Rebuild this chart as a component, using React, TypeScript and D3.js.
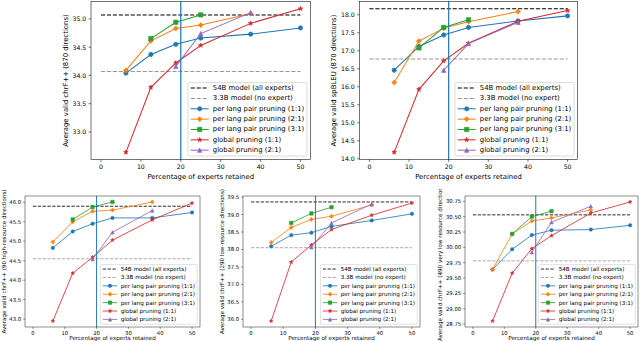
import React from 'react'
import * as d3 from 'd3'

// x positions (percentage of experts retained) for each series
const X_TICKS = [0, 10, 20, 30, 40, 50]
const X_PP11 = [6.25, 12.5, 18.75, 25, 37.5, 50]
const X_PP21 = [6.25, 12.5, 18.75, 25, 37.5]
const X_PP31 = [12.5, 18.75, 25]
const X_G11 = [6.25, 12.5, 18.75, 25, 37.5, 50]
const X_G21 = [18.75, 25, 37.5]
const X_SPLIT = 20

const LEGEND_LABELS = [
  '54B model (all experts)',
  '3.3B model (no expert)',
  'per lang pair pruning (1:1)',
  'per lang pair pruning (2:1)',
  'per lang pair pruning (3:1)',
  'global pruning (1:1)',
  'global pruning (2:1)',
]

// chrF++ 870 directions
const ALL_CHRF_REF = [35.07, 34.07]
const ALL_CHRF_PP11 = [34.04, 34.37, 34.55, 34.66, 34.73, 34.84]
const ALL_CHRF_PP21 = [34.09, 34.61, 34.83, 34.89, 35.09]
const ALL_CHRF_PP31 = [34.65, 34.94, 35.07]
const ALL_CHRF_G11 = [32.64, 33.79, 34.22, 34.53, 34.92, 35.18]
const ALL_CHRF_G21 = [34.16, 34.74, 35.11]
const ALL_CHRF_TICKS = [33.0, 33.5, 34.0, 34.5, 35.0]

// spBLEU 870 directions
const ALL_BLEU_REF = [18.17, 16.77]
const ALL_BLEU_PP11 = [16.46, 17.12, 17.44, 17.65, 17.83, 17.97]
const ALL_BLEU_PP21 = [16.12, 17.27, 17.63, 17.81, 18.09]
const ALL_BLEU_PP31 = [17.08, 17.65, 17.86]
const ALL_BLEU_G11 = [14.18, 15.93, 16.72, 17.21, 17.82, 18.12]
const ALL_BLEU_G21 = [16.46, 17.20, 17.79]
const ALL_BLEU_TICKS = [14.0, 14.5, 15.0, 15.5, 16.0, 16.5, 17.0, 17.5, 18.0]

// chrF++ 90 high-resource directions
const HIGH_REF = [45.90, 44.55]
const HIGH_PP11 = [44.83, 45.25, 45.45, 45.60, 45.60, 45.74]
const HIGH_PP21 = [44.98, 45.50, 45.77, 45.80, 46.01]
const HIGH_PP31 = [45.56, 45.88, 46.01]
const HIGH_G11 = [42.95, 44.18, 44.59, 45.03, 45.55, 45.98]
const HIGH_G21 = [44.54, 45.23, 45.79]
const HIGH_TICKS = [43.0, 43.5, 44.0, 44.5, 45.0, 45.5, 46.0]

// chrF++ 290 low-resource directions
const LOW_REF = [39.36, 38.05]
const LOW_PP11 = [38.09, 38.41, 38.48, 38.66, 38.83, 39.02]
const LOW_PP21 = [38.20, 38.63, 38.86, 38.95, 39.27]
const LOW_PP31 = [38.76, 39.03, 39.21]
const LOW_G11 = [35.95, 37.64, 38.13, 38.57, 38.98, 39.33]
const LOW_G21 = [38.06, 38.76, 39.30]
const LOW_TICKS = [36.0, 36.5, 37.0, 37.5, 38.0, 38.5, 39.0, 39.5]

// chrF++ 490 very low resource directions
const VLOW_REF = [30.53, 29.78]
const VLOW_PP11 = [29.64, 29.97, 30.20, 30.28, 30.29, 30.36]
const VLOW_PP21 = [29.64, 30.22, 30.43, 30.48, 30.61]
const VLOW_PP31 = [30.22, 30.50, 30.59]
const VLOW_G11 = [28.80, 29.58, 29.98, 30.19, 30.56, 30.74]
const VLOW_G21 = [29.92, 30.41, 30.67]
const VLOW_TICKS = [28.75, 29.0, 29.25, 29.5, 29.75, 30.0, 30.25, 30.5, 30.75]

const SERIES_X = [X_PP11, X_PP21, X_PP31, X_G11, X_G21]
const SERIES_STYLE = [
  { color: '#1f77b4', marker: 'o' },
  { color: '#ff7f0e', marker: 'P' },
  { color: '#2ca02c', marker: 's' },
  { color: '#d62728', marker: '*' },
  { color: '#9467bd', marker: '^' },
]
const FONT = '"DejaVu Sans", sans-serif'

type PanelProps = {
  id: string
  left: number; right: number; top: number; bottom: number
  sc: number; tfs: number; lfs: number
  yLabel: string; yLabelX: number; yTicks: number[]; digits: number
  refs: number[]; ys: number[][]
  xLabelDy: number; clipTop?: number
}

function markerPath(kind: string, ms: number) {
  const r = ms / 2
  if (kind === 'o') {
    const p = d3.path(); p.arc(0, 0, r, 0, Math.PI * 2); p.closePath(); return p.toString()
  }
  if (kind === 's') return `M${-r},${-r}H${r}V${r}H${-r}Z`
  if (kind === '^') return `M0,${-r}L${-r},${r}L${r},${r}Z`
  if (kind === 'P') {
    const a = r / 3
    return `M${-a},${-r}H${a}V${-a}H${r}V${a}H${a}V${r}H${-a}V${a}H${-r}V${-a}H${-a}Z`
  }
  // five point star
  const pts: string[] = []
  for (let i = 0; i < 10; i++) {
    const rr = i % 2 === 0 ? r * 1.1 : r * 1.1 * 0.381966
    const ang = -Math.PI / 2 + i * Math.PI / 5
    pts.push(`${rr * Math.cos(ang)},${rr * Math.sin(ang)}`)
  }
  return 'M' + pts.join('L') + 'Z'
}

let ctx: CanvasRenderingContext2D | null = null
function textWidth(s: string, fs: number) {
  if (!ctx) ctx = document.createElement('canvas').getContext('2d')
  if (!ctx) return s.length * fs * 0.55
  ctx.font = `${fs}px "DejaVu Sans"`
  return ctx.measureText(s).width
}

function Panel(p: PanelProps) {
  const { left, right, top, bottom, sc, tfs, lfs } = p
  const x = d3.scaleLinear().domain([-2.5, 52.5]).range([left, right])
  const all = p.ys.flat().concat(p.refs)
  const [lo, hi] = d3.extent(all) as [number, number]
  const m = (hi - lo) * 0.05
  const y = d3.scaleLinear().domain([lo - m, hi + m]).range([bottom, top])
  const lw = 1.5 * sc, ms = 6.3 * sc, tick = 3.5 * sc, pad = 3.5 * sc
  const line = d3.line<[number, number]>().x(d => x(d[0])).y(d => y(d[1]))
  const dash = `${3.7 * lw * 1.1},${1.6 * lw * 1.1}`
  const refColors = ['#000', '#999']

  // legend
  const tw = d3.max(LEGEND_LABELS, s => textWidth(s, lfs)) as number
  const pitch = 1.5 * lfs
  const bw = tw + 4 * lfs
  const bh = 0.8 * lfs + (LEGEND_LABELS.length - 1) * pitch + 0.85 * lfs
  const bx = right - 0.5 * lfs - bw
  const by = bottom - 0.5 * lfs - bh
  const hx0 = bx + 0.4 * lfs, hx1 = hx0 + 2.6 * lfs
  const clipId = `clip-${p.id}`

  return (
    <g fontFamily={FONT}>
      {p.clipTop != null && (
        <defs>
          <clipPath id={clipId}><rect x={left - 60} y={p.clipTop} width={200} height={400} /></clipPath>
        </defs>
      )}
      {/* reference lines */}
      {p.refs.map((v, i) => (
        <line key={i} x1={x(0)} x2={x(50)} y1={y(v)} y2={y(v)} stroke={refColors[i]}
          strokeWidth={lw} strokeDasharray={dash} />
      ))}
      {/* series */}
      {p.ys.map((vals, si) => {
        const xs = SERIES_X[si]
        const pts = vals.map((v, i) => [xs[i], v] as [number, number])
        const st = SERIES_STYLE[si]
        return (
          <g key={si}>
            <path d={line(pts) || ''} fill="none" stroke={st.color} strokeWidth={lw} />
            {pts.map((d, i) => (
              <path key={i} d={markerPath(st.marker, ms)} transform={`translate(${x(d[0])},${y(d[1])})`}
                fill={st.color} stroke={st.color} strokeWidth={sc} />
            ))}
          </g>
        )
      })}
      <line x1={x(X_SPLIT)} x2={x(X_SPLIT)} y1={top} y2={bottom} stroke="#1f77b4" strokeWidth={lw * 1.2} />
      {/* frame */}
      <rect x={left} y={top} width={right - left} height={bottom - top} fill="none" stroke="#000" strokeWidth={0.8 * sc} />
      {/* x axis */}
      {X_TICKS.map(t => (
        <g key={t}>
          <line x1={x(t)} x2={x(t)} y1={bottom} y2={bottom + tick} stroke="#000" strokeWidth={0.8 * sc} />
          <text x={x(t)} y={bottom + tick + pad + 0.76 * tfs} fontSize={tfs} textAnchor="middle">{t}</text>
        </g>
      ))}
      <text x={(left + right) / 2} y={bottom + p.xLabelDy} fontSize={lfs} textAnchor="middle">Percentage of experts retained</text>
      {/* y axis */}
      {p.yTicks.map(t => (
        <g key={t}>
          <line x1={left - tick} x2={left} y1={y(t)} y2={y(t)} stroke="#000" strokeWidth={0.8 * sc} />
          <text x={left - tick - pad} y={y(t)} fontSize={tfs} textAnchor="end" dominantBaseline="central">
            {t.toFixed(p.digits)}
          </text>
        </g>
      ))}
      <g clipPath={p.clipTop != null ? `url(#${clipId})` : undefined}>
        <text transform={`translate(${p.yLabelX},${(top + bottom) / 2}) rotate(-90)`} fontSize={lfs}
          textAnchor="middle" dominantBaseline="central">{p.yLabel}</text>
      </g>
      {/* legend */}
      <rect x={bx} y={by} width={bw} height={bh} rx={0.2 * lfs} fill="#fff" fillOpacity={0.8}
        stroke="#ccc" strokeWidth={sc} />
      {LEGEND_LABELS.map((lab, i) => {
        const cy = by + 0.8 * lfs + i * pitch
        const hm = (hx0 + hx1) / 2
        return (
          <g key={lab}>
            {i < 2 ? (
              <line x1={hx0} x2={hx1} y1={cy} y2={cy} stroke={refColors[i]} strokeWidth={lw} strokeDasharray={dash} />
            ) : (
              <g>
                <line x1={hx0} x2={hx1} y1={cy} y2={cy} stroke={SERIES_STYLE[i - 2].color} strokeWidth={lw} />
                <path d={markerPath(SERIES_STYLE[i - 2].marker, ms)} transform={`translate(${hm},${cy})`}
                  fill={SERIES_STYLE[i - 2].color} stroke={SERIES_STYLE[i - 2].color} strokeWidth={sc} />
              </g>
            )}
            <text x={hx1 + 0.6 * lfs} y={cy} fontSize={lfs} dominantBaseline="central">{lab}</text>
          </g>
        )
      })}
    </g>
  )
}

export default function App() {
  const top = { sc: 0.68, tfs: 6.2, lfs: 6.9, xLabelDy: 19 }
  const bot = { sc: 0.55, tfs: 5.3, lfs: 5.6, xLabelDy: 12.5, clipTop: 189 }
  return (
    <svg width={640} height={341} style={{ position: 'absolute', left: 0, top: 0, background: '#fff' }}>
      <Panel id="tl" {...top} left={91} right={310.5} top={1.5} bottom={159.5} yLabelX={65.7}
        yLabel="Average valid chrF++ (870 directions)" yTicks={ALL_CHRF_TICKS} digits={1}
        refs={ALL_CHRF_REF} ys={[ALL_CHRF_PP11, ALL_CHRF_PP21, ALL_CHRF_PP31, ALL_CHRF_G11, ALL_CHRF_G21]} />
      <Panel id="tr" {...top} left={359.5} right={577.5} top={1.5} bottom={159.5} yLabelX={333.5}
        yLabel="Average valid spBLEU (870 directions)" yTicks={ALL_BLEU_TICKS} digits={1}
        refs={ALL_BLEU_REF} ys={[ALL_BLEU_PP11, ALL_BLEU_PP21, ALL_BLEU_PP31, ALL_BLEU_G11, ALL_BLEU_G21]} />
      <Panel id="bl" {...bot} left={25} right={200} top={196} bottom={327} yLabelX={4}
        yLabel="Average valid chrF++ (90 high-resource directions)" yTicks={HIGH_TICKS} digits={1}
        refs={HIGH_REF} ys={[HIGH_PP11, HIGH_PP21, HIGH_PP31, HIGH_G11, HIGH_G21]} />
      <Panel id="bm" {...bot} left={243} right={420} top={196} bottom={327} yLabelX={221.5}
        yLabel="Average valid chrF++ (290 low-resource directions)" yTicks={LOW_TICKS} digits={1}
        refs={LOW_REF} ys={[LOW_PP11, LOW_PP21, LOW_PP31, LOW_G11, LOW_G21]} />
      <Panel id="br" {...bot} left={465} right={638} top={196} bottom={327} yLabelX={440}
        yLabel="Average valid chrF++ (490 very low resource directions)" yTicks={VLOW_TICKS} digits={2}
        refs={VLOW_REF} ys={[VLOW_PP11, VLOW_PP21, VLOW_PP31, VLOW_G11, VLOW_G21]} />
    </svg>
  )
}
